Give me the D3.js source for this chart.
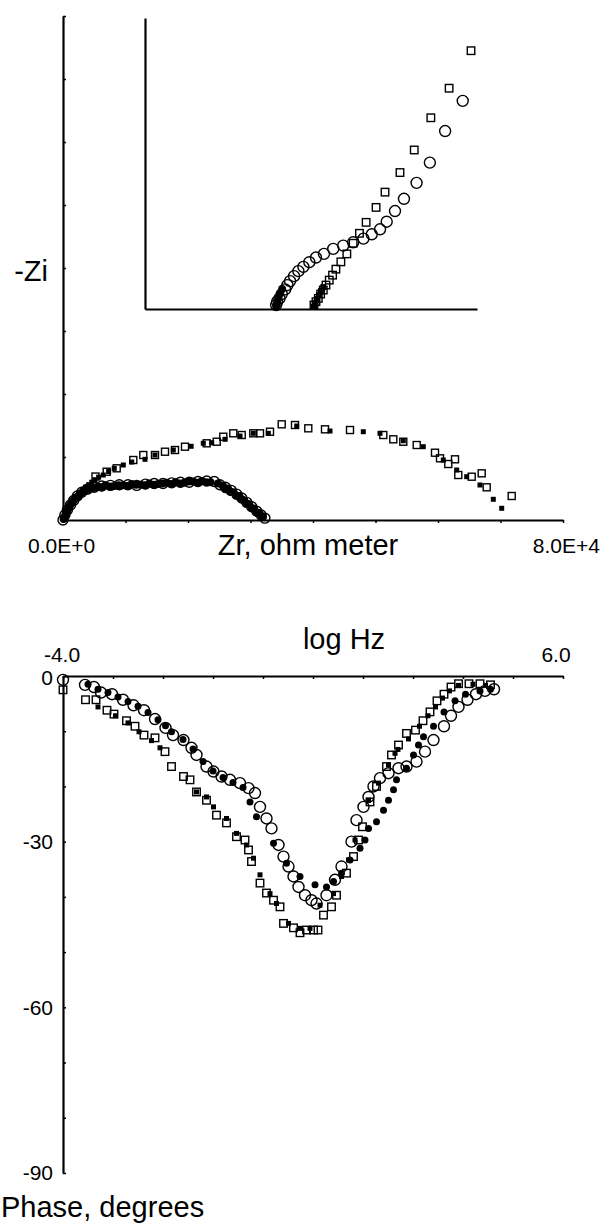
<!DOCTYPE html>
<html>
<head>
<meta charset="utf-8">
<script src="https://cdn.jsdelivr.net/npm/d3@7"></script>
<style>
  body { margin: 0; background: #fff; }
  svg text { font-family: "Liberation Sans", Arial, sans-serif; fill: #000; }
</style>
</head>
<body>
<div id="chart"></div>
<script>
//Data
//-------------------------------------------------------------------

// Nyquist plot, ohm meter: [Zr, -Zi]
var nyqSquaresOpen = [[5200,6900],[6992,7665],[8592,8205],[11248,9522],[12848,10316],[14720,10316],
  [16320,10840],[17920,11109],[19520,11633],[22992,12173],[24592,12426],[25648,13220],[27248,13760],
  [28592,13490],[30448,13760],[31520,13760],[33120,14013],[34992,15188],[37120,15077],[39248,14553],
  [41920,14394],[45920,14283],[51248,13490],[52848,12807],[54448,12426],[56592,11903],[59520,10681],
  [60320,9792],[61648,8887],[62720,9633],[63248,7142],[65392,6872],[66992,7411],[67792,5189],[71792,3809]];
var nyqSquaresFilled = [[300,600],[600,1200],[900,1800],[1200,2300],[1500,2800],[1900,3300],
  [2300,3800],[2700,4300],[3100,4700],[3600,5200],[4100,5600],[4600,6000],[5100,6400],[5700,6800],
  [6448,7142],[7300,7700],[8200,8200],[9648,8729],[11000,9200],[13120,9633],[14720,10316],
  [17648,11109],[20500,11700],[22448,12173],[23792,12268],[25920,12807],[28320,13331],[30448,13760],
  [32848,13760],[37392,14918],[42720,14124],[48048,14013],[50720,13760],[54448,12585],[57648,11633],
  [60848,9522],[62992,7935],[64592,6872],[66720,5555],[68848,3285],[70192,1857]];
var nyqCirclesOpen = [[0,0],[300,800],[700,1600],[1200,2400],[1700,3100],[2300,3800],[3000,4400],
  [3900,4900],[5000,5200],[6200,5400],[7600,5500],[9000,5600],[10400,5600],[11800,5500],[13200,5700],
  [14600,5800],[16000,5800],[17400,5900],[18800,6000],[20200,6000],[21600,6100],[23000,6200],
  [24200,6100],[25100,5600],[26000,5200],[26900,4700],[27800,4100],[28600,3500],[29400,2800],
  [30200,2100],[31000,1400],[31700,800],[32300,300]];
var nyqCirclesFilled = [[100,150],[200,300],[350,700],[500,1100],[700,1500],[900,1900],[1100,2300],
  [1400,2700],[1700,3100],[2000,3500],[2300,3700],[2700,4100],[3100,4400],[3500,4600],[4000,4800],
  [4400,5000],[5000,5100],[5600,5300],[6200,5200],[6800,5500],[7500,5300],[8200,5400],[8900,5500],
  [9600,5500],[10300,5400],[11000,5700],[11700,5600],[12400,5600],[13100,5500],[13800,5800],
  [14500,5600],[15200,5700],[15900,5800],[16600,5900],[17300,5700],[18000,6000],[18700,5800],
  [19400,5900],[20100,6100],[20800,6100],[21500,5900],[22200,6200],[22900,6000],[23600,6000],
  [24800,5800],[25600,5400],[26000,4900],[26400,5000],[26800,4500],[27300,4400],[27700,3900],
  [28200,3800],[28600,3300],[29000,3100],[29400,2600],[29800,2500],[30200,1900],[30600,1800],
  [31000,1200],[31400,1100],[31800,600],[32000,500]];

// Inset (high-frequency end, enlarged)
var insetCirclesOpen = [[957,627],[904,536],[858,441],[818,380],[780,332],[753,295],[728,263],
  [708,240],[683,225],[658,212],[627,201],[597,191],[567,181],[539,166],[515,155],[495,141],
  [477,127],[462,114],[449,99],[437,84],[429,72],[422,59],[412,45],[405,32],[398,22],[395,12]];
var insetSquaresOpen = [[982,778],[916,665],[861,576],[811,479],[768,411],[723,352],[696,306],
  [666,261],[646,228],[627,198],[608,166],[590,142],[575,120],[565,102],[555,87],[545,72],
  [537,57],[529,45],[522,32],[515,22],[509,12]];
var insetCirclesFilled = [[395,8],[398,20],[402,33],[407,47],[413,60]];
var insetSquaresFilled = [[509,6],[513,18],[518,30],[524,42],[530,54],[537,66]];

// Bode phase plot: [log Hz, phase degrees]
var phaseSquaresOpen = [[-4.00,-2.5],[-3.55,-4.3],[-3.34,-4.3],[-3.12,-6.2],[-2.98,-6.9],[-2.73,-8.1],
  [-2.56,-9.1],[-2.38,-10.7],[-2.16,-11.2],[-1.96,-13.7],[-1.83,-16.4],[-1.59,-18.2],[-1.46,-18.8],
  [-1.33,-21.0],[-1.13,-22.5],[-0.93,-25.2],[-0.73,-26.6],[-0.53,-29.1],[-0.36,-29.7],[-0.29,-31.5],
  [-0.23,-33.6],[-0.06,-37.5],[0.07,-39.3],[0.21,-40.6],[0.34,-41.8],[0.41,-44.8],[0.61,-45.6],
  [0.74,-46.5],[0.87,-46.0],[1.01,-46.0],[1.10,-46.0],[1.21,-43.3],[1.37,-41.8],[1.47,-39.7],
  [1.67,-35.7],[1.81,-32.7],[1.91,-29.7],[1.99,-27.3],[2.14,-22.8],[2.27,-20.0],[2.47,-16.4],
  [2.57,-14.3],[2.71,-12.5],[2.87,-10.4],[3.05,-9.8],[3.20,-8.1],[3.34,-6.5],[3.48,-4.5],
  [3.62,-3.3],[3.76,-2.0],[3.91,-1.4],[4.12,-1.4],[4.34,-1.4],[4.55,-1.6]];
var phaseSquaresFilled = [[-3.30,-5.6],[-2.95,-7.2],[-2.70,-8.5],[-2.48,-10.1],[-2.23,-11.7],
  [-2.06,-13.0],[-1.33,-21.0],[-1.13,-21.9],[-0.99,-23.7],[-0.73,-25.8],[-0.53,-28.5],[-0.33,-30.6],
  [-0.19,-33.0],[-0.06,-36.0],[0.14,-39.4],[0.27,-41.2],[0.51,-44.8],[0.74,-45.7],[0.94,-45.7],
  [1.14,-41.5],[1.41,-39.4],[1.57,-36.3],[1.71,-33.3],[1.84,-29.7],[2.11,-22.5],[2.31,-19.4],
  [2.51,-16.1],[2.64,-14.0],[2.70,-13.3],[2.91,-11.4],[3.13,-9.1],[3.30,-7.2],[3.45,-5.6],
  [3.59,-4.0],[3.73,-2.7],[3.91,-1.7],[4.20,-1.5],[4.45,-1.7]];
var phaseCirclesOpen = [[-4.00,-0.7],[-3.56,-1.6],[-3.38,-2.0],[-3.24,-3.0],[-3.02,-3.3],[-2.80,-4.3],
  [-2.59,-5.3],[-2.38,-6.2],[-2.16,-7.8],[-1.95,-9.4],[-1.80,-10.7],[-1.59,-11.6],[-1.43,-13.0],
  [-1.33,-14.3],[-1.13,-16.4],[-0.99,-17.3],[-0.83,-18.2],[-0.66,-18.8],[-0.46,-19.4],[-0.29,-20.3],
  [-0.16,-21.2],[-0.06,-23.7],[0.07,-25.8],[0.17,-27.6],[0.31,-30.6],[0.41,-32.7],[0.51,-34.5],
  [0.61,-36.3],[0.71,-38.2],[0.84,-39.7],[0.97,-40.6],[1.07,-41.2],[1.27,-39.7],[1.44,-36.9],
  [1.57,-34.5],[1.77,-30.0],[1.87,-26.1],[2.01,-23.7],[2.11,-21.9],[2.21,-20.0],[2.34,-18.5],
  [2.51,-17.6],[2.71,-16.7],[2.87,-16.4],[3.07,-15.5],[3.24,-13.7],[3.41,-11.6],[3.62,-9.1],
  [3.76,-7.2],[3.91,-5.6],[4.09,-4.3],[4.26,-3.3],[4.44,-2.7],[4.62,-2.4]];
var phaseCirclesFilled = [[-3.50,-1.5],[-3.30,-2.4],[-3.10,-3.0],[-2.90,-3.8],[-2.70,-4.6],
  [-2.50,-5.5],[-2.30,-6.6],[-2.10,-7.9],[-1.95,-9.0],[-1.83,-10.1],[-1.60,-11.5],[-1.40,-13.2],
  [-1.20,-15.5],[-1.00,-17.2],[-0.80,-18.4],[-0.60,-19.3],[-0.40,-20.2],[-0.26,-22.8],[-0.13,-25.5],
  [0.21,-30.3],[0.47,-33.9],[0.74,-36.3],[1.04,-37.8],[1.27,-38.2],[1.41,-37.2],[1.57,-35.7],
  [1.74,-33.3],[1.94,-31.2],[2.04,-29.7],[2.11,-27.6],[2.27,-26.4],[2.41,-24.3],[2.51,-22.5],
  [2.61,-20.6],[2.67,-18.8],[2.87,-16.7],[3.01,-14.3],[3.11,-12.5],[3.21,-11.0],[3.41,-9.1],
  [3.62,-6.5],[3.84,-4.5],[4.05,-3.3],[4.34,-2.7],[4.55,-2.4]];

// Tick labels
var nyqXLabels = ["0.0E+0", "8.0E+4"];
var phaseXLabels = ["-4.0", "6.0"];
var phaseYLabels = ["0", "-30", "-60", "-90"];

//Create SVG
//-------------------------------------------------------------------
var svg = d3.select("#chart").append("svg")
    .attr("width", 601)
    .attr("height", 1223);

var labelFont = 21, titleFont = 29;

// draws the four marker types from an array of points
function drawMarkers(g, data, xs, ys, kind, size) {
  if (kind === "circle" || kind === "dot") {
    g.selectAll(null).data(data).enter().append("circle")
      .attr("cx", d => xs(d[0]))
      .attr("cy", d => ys(d[1]))
      .attr("r", size)
      .attr("fill", kind === "dot" ? "#000" : "none")
      .attr("stroke", "#000")
      .attr("stroke-width", kind === "dot" ? 0 : 1.4);
  } else {
    g.selectAll(null).data(data).enter().append("rect")
      .attr("x", d => xs(d[0]) - size / 2)
      .attr("y", d => ys(d[1]) - size / 2)
      .attr("width", size)
      .attr("height", size)
      .attr("fill", kind === "fsquare" ? "#000" : "none")
      .attr("stroke", "#000")
      .attr("stroke-width", kind === "fsquare" ? 0 : 1.4);
  }
}

function styleAxis(g) {
  g.select(".domain").attr("stroke", "#000").attr("stroke-width", 2.2);
  g.selectAll(".tick line").attr("stroke", "#000").attr("stroke-width", 1.5);
  g.selectAll(".tick text").remove();
}

//NYQUIST CHART
//-------------------------------------------------------------------
var xZ = d3.scaleLinear().domain([0, 8e4]).range([63, 563]);
var yZ = d3.scaleLinear().domain([0, 8e4]).range([520, 16]);

svg.append("g").attr("transform", "translate(0,520)")
  .call(d3.axisBottom(xZ).ticks(8).tickSize(3).tickSizeOuter(0))
  .call(styleAxis);
svg.append("g").attr("transform", "translate(63,0)")
  .call(d3.axisRight(yZ).ticks(8).tickSize(3).tickSizeOuter(0))
  .call(styleAxis);

var nyq = svg.append("g");
drawMarkers(nyq, nyqCirclesOpen, xZ, yZ, "circle", 5);
drawMarkers(nyq, nyqCirclesFilled, xZ, yZ, "dot", 4);
drawMarkers(nyq, nyqSquaresOpen, xZ, yZ, "square", 7);
drawMarkers(nyq, nyqSquaresFilled, xZ, yZ, "fsquare", 5);

svg.append("text").attr("x", 28).attr("y", 553)
  .attr("font-size", labelFont).text(nyqXLabels[0]);
svg.append("text").attr("x", 600).attr("y", 553).attr("text-anchor", "end")
  .attr("font-size", labelFont).text(nyqXLabels[1]);
svg.append("text").attr("x", 308).attr("y", 555).attr("text-anchor", "middle")
  .attr("font-size", titleFont).text("Zr, ohm meter");
svg.append("text").attr("x", 48).attr("y", 281).attr("text-anchor", "end")
  .attr("font-size", titleFont).text("-Zi");

// Inset
var xI = d3.scaleLinear().domain([0, 1000]).range([145, 477]);
var yI = d3.scaleLinear().domain([0, 876.5]).range([309, 18]);

svg.append("g").attr("transform", "translate(0,309)")
  .call(d3.axisBottom(xI).tickValues([]).tickSizeOuter(0))
  .call(styleAxis);
svg.append("g").attr("transform", "translate(145,0)")
  .call(d3.axisLeft(yI).tickValues([]).tickSizeOuter(0))
  .call(styleAxis);

var ins = svg.append("g");
drawMarkers(ins, insetCirclesOpen, xI, yI, "circle", 5.5);
drawMarkers(ins, insetCirclesFilled, xI, yI, "dot", 4);
drawMarkers(ins, insetSquaresOpen, xI, yI, "square", 7.5);
drawMarkers(ins, insetSquaresFilled, xI, yI, "fsquare", 6);

//PHASE CHART
//-------------------------------------------------------------------
var xP = d3.scaleLinear().domain([-4, 6]).range([63, 563]);
var yP = d3.scaleLinear().domain([0, -90]).range([676, 1173]);

svg.append("g").attr("transform", "translate(0,676)")
  .call(d3.axisBottom(xP).ticks(10).tickSize(3).tickSizeOuter(0))
  .call(styleAxis);
svg.append("g").attr("transform", "translate(63,0)")
  .call(d3.axisRight(yP).tickValues(d3.range(0, -91, -10)).tickSize(3).tickSizeOuter(0))
  .call(styleAxis);

var ph = svg.append("g");
drawMarkers(ph, phaseCirclesOpen, xP, yP, "circle", 5.5);
drawMarkers(ph, phaseCirclesFilled, xP, yP, "dot", 3.5);
drawMarkers(ph, phaseSquaresOpen, xP, yP, "square", 7.5);
drawMarkers(ph, phaseSquaresFilled, xP, yP, "fsquare", 5);

svg.append("text").attr("x", xP(-4) - 1).attr("y", 662).attr("text-anchor", "middle")
  .attr("font-size", labelFont).text(phaseXLabels[0]);
svg.append("text").attr("x", xP(6) - 7).attr("y", 662).attr("text-anchor", "middle")
  .attr("font-size", labelFont).text(phaseXLabels[1]);
svg.append("text").attr("x", 344).attr("y", 649).attr("text-anchor", "middle")
  .attr("font-size", titleFont).text("log Hz");

svg.selectAll(".ylab").data(phaseYLabels).enter().append("text")
  .attr("x", 53)
  .attr("y", d => yP(+d) + (d === "0" ? 2 : 0))
  .attr("dy", "0.35em")
  .attr("text-anchor", "end")
  .attr("font-size", labelFont)
  .text(d => d);

svg.append("text").attr("x", 1).attr("y", 1217)
  .attr("font-size", titleFont).text("Phase, degrees");
</script>
</body>
</html>
